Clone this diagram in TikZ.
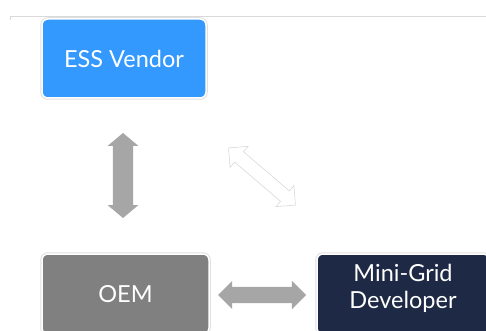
\documentclass[tikz,border=0pt]{standalone}
\usepackage{fontspec}
\setmainfont{Lato}
\usetikzlibrary{shapes.arrows}

\definecolor{essblue}{HTML}{3399FF}
\definecolor{oemgray}{HTML}{808080}
\definecolor{devnavy}{HTML}{1E2A45}
\definecolor{arrowgray}{HTML}{A6A6A6}

\begin{document}
\begin{tikzpicture}[x=1pt,y=-1pt,
        box/.style={rectangle, rounded corners=6pt, text=white, align=center,
            font=\fontsize{23.5}{27}\selectfont, inner sep=0pt,
            draw=white, line width=1.5pt,
            preaction={draw=black!12, line width=3.5pt}},
        twoway/.style={double arrow, fill=arrowgray, draw=none, inner xsep=0pt,
            double arrow head indent=0pt, double arrow tip angle=100}]
        \useasboundingbox (0,0) rectangle (486,331);
        \fill[white] (0,0) rectangle (486,331);

        % rule at the top
        \draw[black!15, line width=0.8pt] (10,20) -- (10,16) -- (486,16);

        \node[box, fill=essblue, minimum width=164, minimum height=79] (ess) at (124,58.5) {ESS Vendor};
        \node[box, fill=oemgray, minimum width=167, minimum height=80] (oem) at (125.5,294) {OEM};
        \node[box, fill=devnavy, minimum width=172, minimum height=80, text depth=15pt] (dev) at (403,294) {Mini-Grid\\Developer};

        \node[twoway, rotate=90, inner ysep=10pt, minimum height=85, minimum width=30, double arrow head extend=5pt] (essoem) at (123,175.5) {};
        \node[twoway, inner ysep=8pt, minimum height=88, minimum width=28, double arrow head extend=6pt, double arrow tip angle=90] (oemdev) at (262,295) {};
        \node[twoway, fill=white, draw=black!15, line width=0.6pt, rotate=-40.5, inner ysep=6.5pt, minimum height=88, minimum width=27, double arrow head extend=7pt, double arrow tip angle=90] (essdev) at (262,176.5) {};
    \end{tikzpicture}
\end{document}
